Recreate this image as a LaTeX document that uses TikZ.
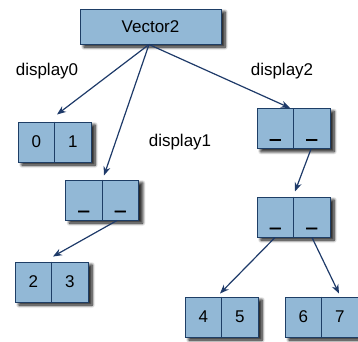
\documentclass[tikz,border=0pt]{standalone}
\usepackage{fontspec}
\setmainfont{Liberation Sans}
\usetikzlibrary{arrows.meta,shadows.blur}
\definecolor{cellfill}{RGB}{146,184,214}
\definecolor{cellline}{RGB}{30,62,102}
\definecolor{arrcol}{RGB}{30,58,105}
\tikzset{
  box/.style={draw=cellline, fill=cellfill, line width=1pt, inner sep=0pt,
    blur shadow={shadow xshift=6pt, shadow yshift=-5pt, shadow blur radius=6pt, shadow opacity=100, shadow blur steps=10},
    blur shadow={shadow xshift=4pt, shadow yshift=-3pt, shadow blur radius=3pt, shadow opacity=60, shadow blur steps=6}},
  pair/.style={box, minimum width=73pt, minimum height=40pt},
  lbl/.style={font=\fontsize{17}{20}\selectfont, inner sep=0pt},
  digit/.style={font=\fontsize{17}{20}\selectfont, inner sep=0pt},
  uscore/.style={font=\fontsize{18}{20}\selectfont\addfontfeature{FakeBold=4}, inner sep=0pt, anchor=base},
  arr/.style={draw=arrcol, line width=1.2pt, -{Stealth[length=9pt,width=7pt]}},
}
\newcommand{\cellpair}[4]{% name, center, left text, right text
  \node[pair] (#1) at #2 {};
  \draw[cellline, line width=1pt] (#1.north) -- (#1.south);
  \node[digit] (#1l) at ([xshift=-18.25pt]#1.center) {#3};
  \node[digit] (#1r) at ([xshift=18.25pt]#1.center) {#4};
}
\newcommand{\blankpair}[2]{% name, center
  \node[pair] (#1) at #2 {};
  \draw[cellline, line width=1pt] (#1.north) -- (#1.south);
  \node[uscore] (#1l) at ([xshift=-18.25pt,yshift=-8.5pt]#1.center) {\_};
  \node[uscore] (#1r) at ([xshift=18.25pt,yshift=-8.5pt]#1.center) {\_};
}
\begin{document}
\begin{tikzpicture}[x=1pt,y=-1pt]
\useasboundingbox (0,0) rectangle (358,341);
\node[box, minimum width=141pt, minimum height=35pt, font=\fontsize{17}{20}\selectfont] (v) at (150.5,26.5) {Vector2};
\cellpair{A}{(54.5,142)}{0}{1}
\blankpair{B}{(102,200)}
\blankpair{C}{(293.5,128.5)}
\blankpair{D}{(293.5,217)}
\cellpair{E}{(51.5,282)}{2}{3}
\cellpair{F}{(221.5,317)}{4}{5}
\cellpair{G}{(321.5,317)}{6}{7}
\node[lbl] (l0) at (47,71) {display0};
\node[lbl] (l1) at (180,142) {display1};
\node[lbl] (l2) at (282,71) {display2};
\draw[arr] ([xshift=-1.5pt]v.south) -- ([shift={(2.5,-7)}]A.north);
\draw[arr] ([xshift=-1.5pt]v.south) -- ([shift={(2,-4)}]B.north);
\draw[arr] ([xshift=-1.5pt]v.south) -- ([shift={(-3.5,0)}]C.north);
\draw[arr] ([xshift=17.5pt]C.south) -- ([shift={(1.5,-5)}]D.north);
\draw[arr] ([xshift=15pt]B.south) -- ([shift={(1.5,-5)}]E.north);
\draw[arr] ([xshift=-18.5pt]D.south) -- ([shift={(-1.5,-3)}]F.north);
\draw[arr] ([xshift=18.5pt]D.south) -- ([shift={(17.5,-3)}]G.north);
\end{tikzpicture}
\end{document}
